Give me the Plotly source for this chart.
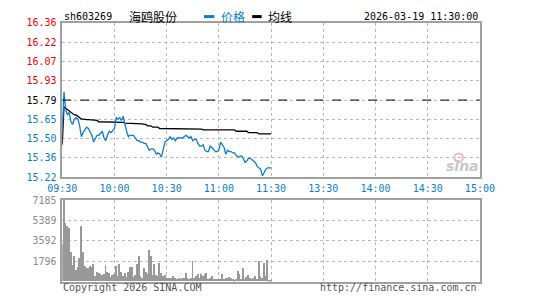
import plotly.graph_objects as go
import numpy as np

symbol = "sh603269"
stock_name = "海鸥股份"
timestamp = "2026-03-19 11:30:00"
prev_close = 15.79

price = [15.57, 15.85, 15.72, 15.68, 15.70, 15.63, 15.61, 15.65, 15.66, 15.65,
         15.60, 15.52, 15.55, 15.57, 15.59, 15.58, 15.56, 15.53, 15.48, 15.50,
         15.53, 15.53, 15.55, 15.56, 15.51, 15.49, 15.53, 15.56, 15.55, 15.57,
         15.58, 15.66, 15.65, 15.66, 15.64, 15.67, 15.60, 15.56, 15.52, 15.53,
         15.53, 15.53, 15.51, 15.49, 15.49, 15.48, 15.48, 15.47, 15.47, 15.45,
         15.42, 15.43, 15.43, 15.42, 15.39, 15.40, 15.39, 15.37, 15.44, 15.48,
         15.49, 15.50, 15.52, 15.50, 15.51, 15.49, 15.51, 15.51, 15.51, 15.51,
         15.52, 15.53, 15.52, 15.51, 15.52, 15.49, 15.50, 15.50, 15.47, 15.45,
         15.45, 15.46, 15.42, 15.41, 15.41, 15.45, 15.44, 15.42, 15.41, 15.41,
         15.42, 15.48, 15.46, 15.44, 15.39, 15.42, 15.41, 15.41, 15.40, 15.40,
         15.38, 15.37, 15.37, 15.38, 15.36, 15.33, 15.34, 15.36, 15.36, 15.35,
         15.34, 15.33, 15.30, 15.29, 15.28, 15.23, 15.26, 15.28, 15.29, 15.29,
         15.29]

avg_price = [15.46, 15.74, 15.73, 15.72, 15.71, 15.70, 15.69, 15.68, 15.68, 15.67,
             15.66, 15.65, 15.65, 15.645, 15.645, 15.645, 15.645, 15.64, 15.64, 15.64,
             15.64, 15.63, 15.63, 15.63, 15.63, 15.63, 15.63, 15.63, 15.63, 15.63,
             15.63, 15.625, 15.625, 15.625, 15.625, 15.625, 15.62, 15.62, 15.62, 15.62,
             15.62, 15.62, 15.62, 15.62, 15.62, 15.615, 15.615, 15.61, 15.61, 15.60,
             15.60, 15.60, 15.59, 15.59, 15.59, 15.59, 15.58, 15.58, 15.58, 15.58,
             15.58, 15.58, 15.576, 15.576, 15.576, 15.576, 15.576, 15.576, 15.576, 15.576,
             15.576, 15.576, 15.576, 15.576, 15.576, 15.576, 15.576, 15.575, 15.575, 15.575,
             15.575, 15.57, 15.57, 15.57, 15.57, 15.57, 15.57, 15.57, 15.57, 15.57,
             15.57, 15.57, 15.57, 15.57, 15.57, 15.57, 15.57, 15.57, 15.57, 15.57,
             15.56, 15.56, 15.56, 15.56, 15.56, 15.56, 15.56, 15.55, 15.55, 15.55,
             15.55, 15.55, 15.55, 15.54, 15.54, 15.54, 15.54, 15.54, 15.54, 15.54,
             15.54]

volume = [3280, 7185, 5190, 4850, 4670, 2570, 1430, 2250, 970, 1250,
          2110, 4900, 2620, 1400, 1140, 1140, 1400, 1250, 1570, 490,
          860, 740, 630, 570, 680, 1480, 860, 710, 400, 570,
          630, 1340, 490, 1570, 830, 490, 770, 400, 830, 1250,
          1250, 400, 570, 1540, 2250, 490, 290, 1140, 860, 630,
          2770, 2250, 540, 1570, 540, 490, 1630, 710, 490, 540,
          290, 340, 290, 290, 490, 290, 230, 290, 200, 290,
          340, 710, 340, 200, 290, 1820, 340, 490, 630, 290,
          630, 490, 630, 770, 200, 290, 490, 200, 200, 200,
          200, 200, 630, 200, 290, 290, 400, 290, 200, 110,
          200, 910, 630, 200, 1140, 200, 400, 570, 290, 200,
          340, 490, 200, 1770, 490, 290, 1630, 490, 1910, 140,
          100]

time_labels = ["09:30", "10:00", "10:30", "11:00", "11:30", "13:30", "14:00", "14:30", "15:00"]
price_labels = ["15.22", "15.36", "15.50", "15.65", "15.79", "15.93", "16.07", "16.22", "16.36"]
pct_labels = ["-3.61%", "-2.71%", "-1.80%", "-0.90%", "0.00%", "+0.90%", "+1.80%", "+2.71%", "+3.61%"]
vol_labels = ["1796", "3592", "5389", "7185"]

W, H = 545, 300
RED = "#ff0000"
BLUE = "#0a7fd2"
GRAY = "#999999"
GRID = "#b8b8b8"
FONT = "DejaVu Sans Mono"
CJK = "Noto Sans CJK SC"

minutes = list(range(len(price)))
tvals = [30 * i for i in range(len(time_labels))]
p_lo, p_hi = float(price_labels[0]), float(price_labels[-1])
p_ticks = list(np.linspace(p_lo, p_hi, len(price_labels)))
v_ticks = [float(v) for v in vol_labels]


def colored(lbl, val, pct=False):
    if abs(val - prev_close) < 1e-6:
        c = "#000000"
    elif val > prev_close:
        c = RED
    else:
        c = BLUE
    if pct and not lbl.startswith(("+", "-")):
        lbl = "\u00a0" + lbl
    return f"<span style='color:{c}'>{lbl}</span>"


left_text = [colored(l, v) for l, v in zip(price_labels, p_ticks)]
right_text = [colored(l, v, True) for l, v in zip(pct_labels, p_ticks)]

x0, x1 = 50 / W, 492 / W
py0, py1 = 1 - 177.8 / H, 1 - 17.5 / H
vy0, vy1 = 1 - 286 / H, 1 - 201.5 / H

fig = go.Figure()
fig.add_trace(go.Scatter(x=minutes, y=avg_price, mode="lines",
                         line=dict(color="#000000", width=1.3), xaxis="x", yaxis="y"))
fig.add_trace(go.Scatter(x=minutes, y=price, mode="lines",
                         line=dict(color=BLUE, width=1.3), xaxis="x", yaxis="y"))
fig.add_trace(go.Bar(x=minutes, y=volume, width=0.55, marker=dict(color=GRAY, line=dict(width=0)),
                     xaxis="x2", yaxis="y2"))

axis_common = dict(showline=True, mirror=True, linecolor="#a0a0a0", linewidth=1.5,
                   zeroline=False, showgrid=True, gridcolor=GRID, griddash="dot", gridwidth=1)

fig.update_layout(
    width=W, height=H, margin=dict(l=0, r=0, t=0, b=0),
    paper_bgcolor="white", plot_bgcolor="white", showlegend=False,
    font=dict(family=FONT, size=10),
    xaxis=dict(domain=[x0, x1], range=[0, 240], anchor="y", tickvals=tvals, ticktext=time_labels,
               tickfont=dict(color=BLUE, size=10, family=FONT), ticks="outside", ticklen=1,
               tickcolor="rgba(0,0,0,0)", **axis_common),
    yaxis=dict(domain=[py0, py1], range=[p_lo, p_hi], anchor="x", tickvals=p_ticks, ticktext=left_text,
               tickfont=dict(size=10, family=FONT), ticks="outside", ticklen=2,
               tickcolor="rgba(0,0,0,0)", **axis_common),
    yaxis3=dict(overlaying="y", side="right", anchor="x", range=[p_lo, p_hi], tickvals=p_ticks,
                ticktext=right_text, tickfont=dict(size=10, family=FONT), showgrid=False,
                zeroline=False, showline=False, ticks="outside", ticklen=1, tickcolor="rgba(0,0,0,0)"),
    xaxis2=dict(domain=[x0, x1], range=[0, 240], anchor="y2", tickvals=tvals, showticklabels=False,
                **axis_common),
    yaxis2=dict(domain=[vy0, vy1], range=[0, v_ticks[-1]], anchor="x2", tickvals=v_ticks,
                ticktext=vol_labels, tickfont=dict(size=10, family=FONT, color="#8c8c8c"),
                ticks="outside", ticklen=2, tickcolor="rgba(0,0,0,0)", **axis_common),
    bargap=0,
)

# previous close reference line
fig.add_shape(type="line", xref="x", yref="y", x0=0, x1=240, y0=prev_close, y1=prev_close,
              line=dict(color="#000000", width=1, dash="dash"))

ann = []
ann.append(dict(text=symbol, x=50 / W, y=1 - 11 / H, xanchor="left", yanchor="middle",
                font=dict(family=FONT, size=10, color="#000000")))
ann.append(dict(text=stock_name, x=119 / W, y=1 - 11 / H, xanchor="left", yanchor="middle",
                font=dict(family=CJK, size=12, color="#000000")))
ann.append(dict(text="价格", x=216 / W, y=1 - 11 / H, xanchor="left", yanchor="middle",
                font=dict(family=CJK, size=12, color=BLUE)))
ann.append(dict(text="均线", x=266 / W, y=1 - 11 / H, xanchor="left", yanchor="middle",
                font=dict(family=CJK, size=12, color="#000000")))
ann.append(dict(text=timestamp, x=492 / W, y=1 - 11 / H, xanchor="right", yanchor="middle",
                font=dict(family=FONT, size=10, color="#000000")))
ann.append(dict(text="Copyright 2026 SINA.COM", x=49 / W, y=1 - 292.5 / H, xanchor="left",
                yanchor="middle", font=dict(family=FONT, size=10, color="#555555")))
ann.append(dict(text="http://finance.sina.com.cn", x=491 / W, y=1 - 292.5 / H, xanchor="right",
                yanchor="middle", font=dict(family=FONT, size=10, color="#555555")))
ann.append(dict(text="<b><i>sina</i></b>", x=474 / W, y=1 - 166 / H, xanchor="center",
                yanchor="middle", font=dict(family="DejaVu Sans", size=14, color="#c8c8c8")))
for a in ann:
    a.update(xref="paper", yref="paper", showarrow=False)
fig.update_layout(annotations=ann)

fig.add_shape(type="line", xref="paper", yref="paper", x0=200 / W, x1=211 / W,
              y0=1 - 11 / H, y1=1 - 11 / H, line=dict(color=BLUE, width=3))
fig.add_shape(type="line", xref="paper", yref="paper", x0=251 / W, x1=261 / W,
              y0=1 - 11 / H, y1=1 - 11 / H, line=dict(color="#000000", width=3))
fig.add_shape(type="circle", xref="paper", yref="paper", x0=465 / W, x1=474 / W,
              y0=1 - 162 / H, y1=1 - 153 / H, line=dict(color="#f0b8b8", width=2))

fig.write_html("out.html")
